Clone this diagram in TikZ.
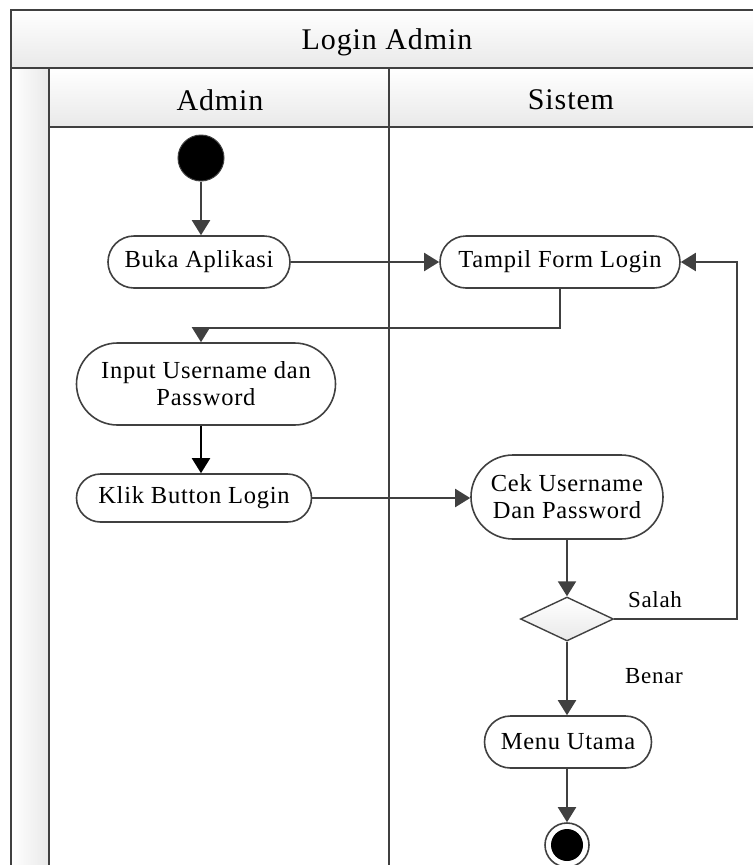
\documentclass[tikz,border=0pt]{standalone}
\usepackage{fontspec}
\setmainfont{Liberation Serif}[LetterSpace=3]
\usetikzlibrary{arrows.meta,shapes.geometric}
\definecolor{edge}{HTML}{404040}
\definecolor{band}{HTML}{E9E9E9}
\begin{document}
\begin{tikzpicture}[x=1pt,y=-1pt,
  frame/.style={draw=edge,line width=2pt},
  act/.style={draw=edge,line width=1.6pt,fill=white,inner sep=0pt,align=center,
    font=\fontsize{24.5}{27}\selectfont},
  flow/.style={draw=edge,line width=2pt,-{Triangle[length=15pt,width=18pt]}},
  lbl/.style={font=\fontsize{23}{26}\selectfont,inner sep=0pt},
  head/.style={font=\fontsize{30}{32}\selectfont,inner sep=0pt},
]
\useasboundingbox (0,0) rectangle (753,865);

% pool and lane backgrounds
\shade[top color=white,bottom color=band] (11,10) rectangle (753,68);
\shade[top color=white,bottom color=band] (49,68) rectangle (753,127);
\shade[left color=white,right color=band] (11,68) rectangle (49,865);

% pool and lane borders
\draw[frame] (753,10) -- (11,10) -- (11,865);
\draw[frame] (11,68) -- (753,68);
\draw[frame] (49,127) -- (753,127);
\draw[frame] (49,68) -- (49,865);
\draw[frame] (389,68) -- (389,865);

% headings
\node[head] (pool) at (387,42) {Login Admin};
\node[head] (laneA) at (220,100) {Admin};
\node[head] (laneS) at (571,100) {Sistem};

% activities
\node[circle,fill=black,draw=edge,line width=1pt,minimum size=46pt,inner sep=0pt] (start) at (201,158) {};
\node[act,minimum width=182pt,minimum height=52pt,rounded corners=26pt] (buka) at (199,262) {Buka Aplikasi};
\node[act,minimum width=240pt,minimum height=52pt,rounded corners=26pt] (tampil) at (560,262) {Tampil Form Login};
\node[act,minimum width=259pt,minimum height=82pt,rounded corners=41pt] (input) at (206,384) {Input Username dan\\Password};
\node[act,minimum width=235pt,minimum height=48pt,rounded corners=24pt] (klik) at (194,498) {Klik Button Login};
\node[act,minimum width=192pt,minimum height=84pt,rounded corners=42pt] (cek) at (567,497) {Cek Username\\Dan Password};
\node[diamond,draw=edge,line width=1.4pt,top color=white,bottom color=band,
  minimum width=93pt,minimum height=44pt,inner sep=0pt] (dia) at (567,619) {};
\node[act,minimum width=167pt,minimum height=52pt,rounded corners=26pt] (menu) at (568,742) {Menu Utama};
\node[circle,draw=edge,fill=white,line width=1.6pt,minimum size=44pt,inner sep=0pt] (fin) at (567,845) {};
\fill[black] (fin.center) circle (16pt);

% flows
\draw[flow] (start) -- (start |- buka.north);
\draw[flow] (buka.east) -- (buka.east -| tampil.west);
\coordinate (turn) at (560,328);
\draw[flow] (tampil.south -| turn) -- (turn) -| (input.north -| start);
\draw[flow,draw=black] (input.south -| start) -- (klik.north -| start);
\draw[flow] (klik.east) -- (klik.east -| cek.west);
\draw[flow] (cek.south -| dia) -- (dia.north);
\coordinate (loop) at (737,619);
\draw[flow] (dia.east) -- (loop) |- (tampil.east);
\draw[flow] (dia.south) -- (menu.north -| dia);
\draw[flow] (menu.south -| fin) -- (fin.north);

% guard labels
\node[lbl] (salah) at (655,600) {Salah};
\node[lbl] (benar) at (654,676) {Benar};
\end{tikzpicture}
\end{document}
